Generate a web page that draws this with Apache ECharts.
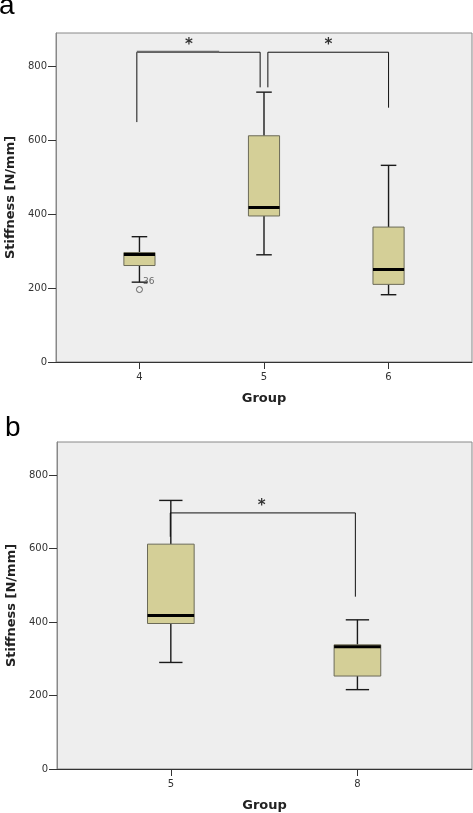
<!DOCTYPE html>
<html>
<head>
<meta charset="utf-8">
<script src="https://cdn.jsdelivr.net/npm/echarts@6/dist/echarts.min.js"></script>
<style>
html,body{margin:0;padding:0;background:#fff;}
#chart{width:473px;height:813px;}
</style>
</head>
<body>
<div id="chart"></div>
<script>
// ---- data ----
const groupsA = ['4', '5', '6'];
// [min, Q1, median, Q3, max]
const boxesA = [
  [216, 261, 291, 296, 339],
  [290, 395, 418, 612, 730],
  [182, 210, 250, 365, 532]
];
const outliersA = [[1, 196, '36']];
const groupsB = ['5', '8'];
const boxesB = [
  [290, 396, 418, 612, 731],
  [216, 253, 333, 338, 406]
];
const yTicks = [0, 200, 400, 600, 800];
const yMax = 890;
// significance brackets, in data units (group position, stiffness)
const bracketsA = [
  [[0.979, 649], [0.979, 838], [1.969, 838], [1.969, 743]],
  [[2.031, 743], [2.031, 838], [3.0, 838], [3.0, 688]]
];
const bracketGrayA = [[0.979, 839.5], [1.64, 839.5]];
const starsA = [[1.397, 856], [2.518, 856]];
const bracketsB = [
  [[0.997, 632], [0.997, 697], [1.989, 697], [1.989, 469]]
];
const starsB = [[1.487, 715]];

const chart = echarts.init(document.getElementById('chart'));
const FONT = 'DejaVu Sans';

function renderBox(params, api) {
  const x = api.value(0);
  const pMin = api.coord([x, api.value(1)]);
  const pQ1 = api.coord([x, api.value(2)]);
  const pMed = api.coord([x, api.value(3)]);
  const pQ3 = api.coord([x, api.value(4)]);
  const pMax = api.coord([x, api.value(5)]);
  const w = api.size([0.25, 0])[0];
  const hw = w / 2, cw = w / 4;
  const cx = pMed[0];
  const wStyle = {stroke: '#1a1a1a', lineWidth: 1.4};
  return {
    type: 'group',
    children: [
      {type: 'line', shape: {x1: cx, y1: pMax[1], x2: cx, y2: pQ3[1]}, style: wStyle},
      {type: 'line', shape: {x1: cx, y1: pQ1[1], x2: cx, y2: pMin[1]}, style: wStyle},
      {type: 'line', shape: {x1: cx - cw, y1: pMax[1], x2: cx + cw, y2: pMax[1]}, style: wStyle},
      {type: 'line', shape: {x1: cx - cw, y1: pMin[1], x2: cx + cw, y2: pMin[1]}, style: wStyle},
      {type: 'rect', shape: {x: cx - hw, y: pQ3[1], width: w, height: pQ1[1] - pQ3[1]},
        style: {fill: '#d4cf97', stroke: '#6b6a58', lineWidth: 1}},
      {type: 'line', shape: {x1: cx - hw, y1: pMed[1], x2: cx + hw, y2: pMed[1]},
        style: {stroke: '#000', lineWidth: 3}}
    ]
  };
}

function xAxisFor(idx, groups, min, max) {
  const vals = groups.map((g, i) => i + 1);
  return {
    type: 'value', gridIndex: idx, min: min, max: max,
    name: 'Group', nameLocation: 'middle', nameGap: 30,
    nameTextStyle: {fontFamily: FONT, fontWeight: 'bold', fontSize: 13, color: '#222'},
    axisLine: {show: true, lineStyle: {color: '#333', width: 1}},
    axisTick: {show: true, length: 7, customValues: vals, lineStyle: {color: '#333'}},
    axisLabel: {customValues: vals, margin: 10, fontFamily: FONT, fontSize: 10, color: '#333',
      formatter: v => groups[Math.round(v) - 1] || ''},
    splitLine: {show: false}
  };
}
function yAxisFor(idx, gap) {
  return {
    type: 'value', gridIndex: idx, min: 0, max: yMax,
    name: 'Stiffness [N/mm]', nameLocation: 'middle', nameGap: gap,
    nameTextStyle: {fontFamily: FONT, fontWeight: 'bold', fontSize: 13, color: '#222'},
    axisLine: {show: true, lineStyle: {color: '#888', width: 1}},
    axisTick: {show: true, length: 8, customValues: yTicks, lineStyle: {color: '#333'}},
    axisLabel: {customValues: yTicks, margin: 9, fontFamily: FONT, fontSize: 10, color: '#333'},
    splitLine: {show: false}
  };
}
function lineSeries(data, xi, color, width) {
  return {
    type: 'line', xAxisIndex: xi, yAxisIndex: xi, data: data,
    symbol: 'none', silent: true, animation: false,
    lineStyle: {color: color, width: width}, z: 5
  };
}
function starSeries(data, xi) {
  return {
    type: 'scatter', xAxisIndex: xi, yAxisIndex: xi, data: data,
    symbolSize: 1, itemStyle: {color: 'transparent'}, silent: true, z: 6,
    label: {show: true, position: 'inside', formatter: '*', fontFamily: FONT,
      fontWeight: 'bold', fontSize: 15, color: '#000'}
  };
}

const series = [
  {type: 'custom', xAxisIndex: 0, yAxisIndex: 0, renderItem: renderBox,
    encode: {x: 0, y: [1, 2, 3, 4, 5]}, data: boxesA.map((b, i) => [i + 1, ...b]), z: 3},
  {type: 'custom', xAxisIndex: 1, yAxisIndex: 1, renderItem: renderBox,
    encode: {x: 0, y: [1, 2, 3, 4, 5]}, data: boxesB.map((b, i) => [i + 1, ...b]), z: 3},
  {type: 'scatter', xAxisIndex: 0, yAxisIndex: 0,
    data: outliersA.map(o => ({value: [o[0], o[1]], name: o[2]})),
    symbol: 'circle', symbolSize: 6,
    itemStyle: {color: 'rgba(0,0,0,0)', borderColor: '#444', borderWidth: 1},
    label: {show: true, position: 'right', distance: 0, offset: [0, -8],
      formatter: p => p.name, fontFamily: FONT, fontSize: 9, color: '#444'}, z: 4}
];
bracketsA.forEach(b => series.push(lineSeries(b, 0, '#111', 1)));
series.push(lineSeries(bracketGrayA, 0, '#6a6a6a', 2));
bracketsB.forEach(b => series.push(lineSeries(b, 1, '#111', 1)));
series.push(starSeries(starsA, 0));
series.push(starSeries(starsB, 1));

chart.setOption({
  animation: false,
  backgroundColor: '#fff',
  grid: [
    {left: 56, top: 33, width: 416, height: 329, show: true, backgroundColor: '#eeeeee',
      borderColor: '#888', borderWidth: 1, containLabel: false, outerBoundsMode: 'none'},
    {left: 57, top: 442, width: 415, height: 327, show: true, backgroundColor: '#eeeeee',
      borderColor: '#888', borderWidth: 1, containLabel: false, outerBoundsMode: 'none'}
  ],
  xAxis: [xAxisFor(0, groupsA, 0.33, 3.67), xAxisFor(1, groupsB, 0.39, 2.614)],
  yAxis: [yAxisFor(0, 35), yAxisFor(1, 34)],
  graphic: [
    {type: 'text', x: -1, y: 6,
      style: {text: 'a', font: '28px "Liberation Sans", Arial, sans-serif', fill: '#000',
        verticalAlign: 'middle', align: 'left'}},
    {type: 'text', x: 5, y: 428.6,
      style: {text: 'b', font: '28px "Liberation Sans", Arial, sans-serif', fill: '#000',
        verticalAlign: 'middle', align: 'left'}}
  ],
  series: series
});
</script>
</body>
</html>
